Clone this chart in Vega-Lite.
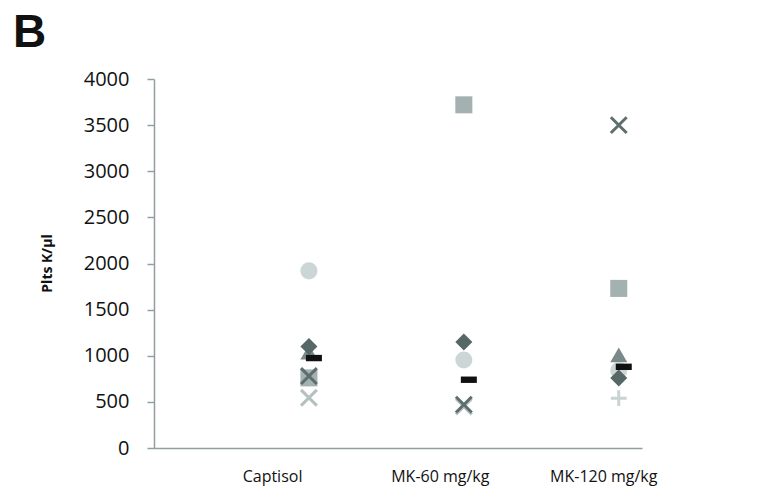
{
  "$schema": "https://vega.github.io/schema/vega-lite/v6.json",
  "width": 488,
  "height": 369,
  "autosize": {"type": "none"},
  "padding": {"left": 154, "top": 79, "right": 120, "bottom": 50},
  "background": "white",
  "title": {"text": "B", "anchor": "start", "frame": "group", "font": "Liberation Sans", "fontSize": 46, "fontWeight": "bold", "color": "#111111", "baseline": "alphabetic", "offset": 10, "dx": -141, "dy": 34},
  "config": {"view": {"stroke": null}},
  "data": {"values": [
    {"group": "Captisol", "arm": 1, "series": "Square", "plts": 760},
    {"group": "Captisol", "arm": 1, "series": "Triangle", "plts": 1040},
    {"group": "Captisol", "arm": 1, "series": "Circle", "plts": 1920},
    {"group": "Captisol", "arm": 1, "series": "Diamond", "plts": 1100},
    {"group": "Captisol", "arm": 1, "series": "LightX", "plts": 545},
    {"group": "Captisol", "arm": 1, "series": "DarkX", "plts": 780},
    {"group": "Captisol", "arm": 1, "series": "Dash", "plts": 975},
    {"group": "MK-60 mg/kg", "arm": 2, "series": "Square", "plts": 3720},
    {"group": "MK-60 mg/kg", "arm": 2, "series": "Circle", "plts": 955},
    {"group": "MK-60 mg/kg", "arm": 2, "series": "Diamond", "plts": 1150},
    {"group": "MK-60 mg/kg", "arm": 2, "series": "LightX", "plts": 450},
    {"group": "MK-60 mg/kg", "arm": 2, "series": "DarkX", "plts": 470},
    {"group": "MK-60 mg/kg", "arm": 2, "series": "Dash", "plts": 740},
    {"group": "MK-120 mg/kg", "arm": 3, "series": "Square", "plts": 1730},
    {"group": "MK-120 mg/kg", "arm": 3, "series": "Triangle", "plts": 1010},
    {"group": "MK-120 mg/kg", "arm": 3, "series": "Circle", "plts": 840},
    {"group": "MK-120 mg/kg", "arm": 3, "series": "Diamond", "plts": 760},
    {"group": "MK-120 mg/kg", "arm": 3, "series": "Plus", "plts": 540},
    {"group": "MK-120 mg/kg", "arm": 3, "series": "DarkX", "plts": 3500},
    {"group": "MK-120 mg/kg", "arm": 3, "series": "Dash", "plts": 880}
  ]},
  "encoding": {
    "x": {"field": "arm", "type": "quantitative",
      "scale": {"domain": [0, 3.15], "nice": false, "zero": false},
      "axis": {"title": null, "values": [0.762, 1.845, 2.9],
        "labelExpr": "datum.value < 1.3 ? 'Captisol' : (datum.value < 2.4 ? 'MK-60 mg/kg' : 'MK-120 mg/kg')",
        "ticks": false, "grid": false, "domainColor": "#8fa0a0", "domainWidth": 1.5,
        "labelPadding": 20, "labelFontSize": 16, "labelFont": "Open Sans", "labelColor": "#111111",
        "labelFlush": false, "labelOverlap": false, "labelBound": false}},
    "y": {"field": "plts", "type": "quantitative",
      "scale": {"domain": [0, 4000], "nice": false},
      "axis": {"title": "Plts K/µl", "values": [0, 500, 1000, 1500, 2000, 2500, 3000, 3500, 4000], "format": "d",
        "grid": false, "domainColor": "#8fa0a0", "domainWidth": 1.5, "tickColor": "#8fa0a0", "tickWidth": 1.5, "tickSize": 7,
        "labelPadding": 18, "labelFontSize": 20, "labelFont": "Open Sans", "labelColor": "#111111",
        "titleFont": "Open Sans", "titleFontWeight": "bold", "titleFontSize": 14, "titleColor": "#111111",
        "titleX": -107, "titleY": 184, "titleAngle": -90, "titleAlign": "center", "titleBaseline": "middle"}},
    "shape": {"field": "series", "type": "nominal", "legend": null,
      "scale": {"domain": ["Square", "Triangle", "Circle", "Diamond", "Plus", "LightX", "DarkX", "Dash"],
        "range": ["square", "triangle-up", "circle", "diamond", "M0,-1V1M-1,0H1", "M-1,-1L1,1M1,-1L-1,1", "M-1,-1L1,1M1,-1L-1,1", "M-1,-0.4H1V0.4H-1Z"]}},
    "color": {"field": "series", "type": "nominal", "legend": null,
      "scale": {"domain": ["Square", "Triangle", "Circle", "Diamond", "Plus", "LightX", "DarkX", "Dash"],
        "range": ["#a3b1b1", "#7a8a8a", "#cdd6d6", "#566767", "#c9d3d3", "#b5c1c1", "#5e6e6e", "#111111"]}}
  },
  "layer": [
    {
      "transform": [{"filter": "indexof(['Square','Triangle','Circle','Diamond'], datum.series) >= 0"}],
      "mark": {"type": "point", "filled": true, "opacity": 1, "size": 290}
    },
    {
      "transform": [{"filter": "indexof(['Plus','LightX','DarkX'], datum.series) >= 0"}],
      "mark": {"type": "point", "filled": false, "opacity": 1, "strokeWidth": 3, "size": 250}
    },
    {
      "transform": [{"filter": "datum.series == 'Dash'"}],
      "mark": {"type": "point", "filled": true, "opacity": 1, "size": 256, "xOffset": 5}
    }
  ]
}
